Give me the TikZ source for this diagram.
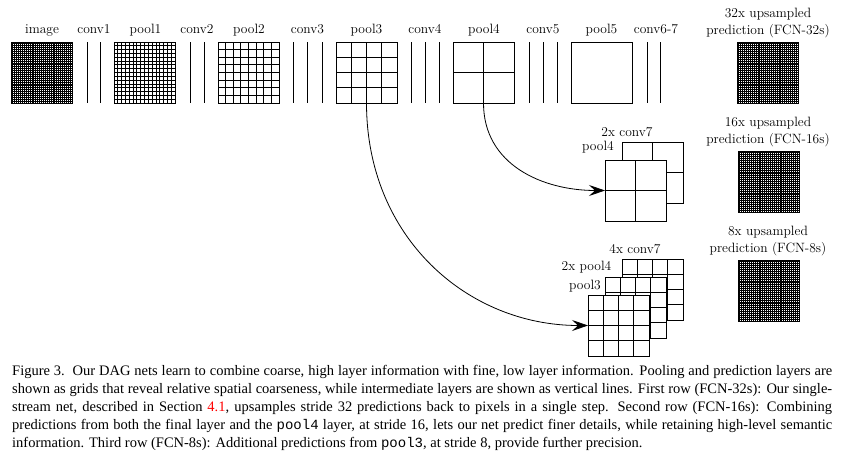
\documentclass[tikz,border=0pt]{standalone}
\usepackage{fontspec}
\newfontfamily\capfont{Liberation Serif}
\newfontfamily\capmono{Liberation Mono}
\usetikzlibrary{arrows.meta}
\newcommand\gridsq[5]{%
  \node[gridbox] (#1) at (#2,#3) {};
  \draw[#5, shift={(#1.south west)}] (0pt,0pt) grid[step=#4] (61pt,61pt);
}
\begin{document}
\begin{tikzpicture}[x=1pt,y=-1pt,
  lab/.style={font=\fontsize{13.5}{17}\selectfont, inner sep=0pt, anchor=base, align=center},
  gridbox/.style={draw=black, line width=0.8pt, fill=white, minimum size=61pt, inner sep=0pt, outer sep=0pt, anchor=north west},
  gridline/.style={line width=0.8pt},
  fineline/.style={line width=0.85pt},
  convline/.style={line width=0.8pt},
  arr/.style={line width=0.8pt, -{Stealth[length=16pt,width=11pt,inset=6pt]}},
]
\useasboundingbox (0,0) rectangle (846,458);

% ---- first row ----
\gridsq{image}{11}{42}{1.90625pt}{fineline}
\draw[convline] (87,42) -- (87,103);
\draw[convline] (100.7,42) -- (100.7,103);
\gridsq{pool1}{114}{42}{3.8125pt}{gridline}
\draw[convline] (190,42) -- (190,103);
\draw[convline] (204,42) -- (204,103);
\gridsq{pool2}{218}{42}{7.625pt}{gridline}
\draw[convline] (293,42) -- (293,103);
\draw[convline] (307.5,42) -- (307.5,103);
\draw[convline] (322,42) -- (322,103);
\gridsq{pool3}{336}{42}{15.25pt}{gridline}
\draw[convline] (411,42) -- (411,103);
\draw[convline] (425,42) -- (425,103);
\draw[convline] (439,42) -- (439,103);
\gridsq{pool4}{453}{42}{30.5pt}{gridline}
\draw[convline] (529,42) -- (529,103);
\draw[convline] (543,42) -- (543,103);
\draw[convline] (557,42) -- (557,103);
\node[gridbox] (pool5) at (571,42) {};
\draw[convline] (647,42) -- (647,103);
\draw[convline] (660,42) -- (660,103);
\gridsq{predA}{737}{42}{1.90625pt}{fineline}

\node[lab] (limage) at (42,33.5) {image};
\node[lab] (lconv1) at (94,33.5) {conv1};
\node[lab] (lpool1) at (145.5,33.5) {pool1};
\node[lab] (lconv2) at (197,33.5) {conv2};
\node[lab] (lpool2) at (249,33.5) {pool2};
\node[lab] (lconv3) at (307.5,33.5) {conv3};
\node[lab] (lpool3) at (366.5,33.5) {pool3};
\node[lab] (lconv4) at (425,33.5) {conv4};
\node[lab] (lpool4) at (484,33.5) {pool4};
\node[lab] (lconv5) at (543,33.5) {conv5};
\node[lab] (lpool5) at (601.5,33.5) {pool5};
\node[lab] (lconv67) at (656,33.5) {conv6-7};
\node[lab] (lpredA) at (768,34) {32x upsampled\\prediction (FCN-32s)};

% ---- second row ----
\gridsq{ctwo}{622}{142}{30.5pt}{gridline}
\gridsq{pfour}{605}{160}{30.5pt}{gridline}
\gridsq{predB}{738}{151}{1.90625pt}{fineline}
\node[lab] (lctwo) at (627,136) {2x conv7};
\node[lab] (lpfour) at (598,150) {pool4};
\node[lab] (lpredB) at (768,143) {16x upsampled\\prediction (FCN-16s)};

% ---- third row ----
\gridsq{cfour}{622}{259}{15.25pt}{gridline}
\gridsq{pfourb}{605}{277}{15.25pt}{gridline}
\gridsq{pthree}{588}{295}{15.25pt}{gridline}
\gridsq{predC}{738}{260}{1.90625pt}{fineline}
\node[lab] (lcfour) at (635,253) {4x conv7};
\node[lab] (lpfourb) at (586.5,270) {2x pool4};
\node[lab] (lpthree) at (585,289) {pool3};
\node[lab] (lpredC) at (768,252) {8x upsampled\\prediction (FCN-8s)};

% ---- arrows ----
\draw[arr] (pool4.south) .. controls +(0,62) and +(-62,0) .. (pfour.west);
\draw[arr] (pool3.south) .. controls +(0,135) and +(-120,0) .. (pthree.west);

% ---- caption ----
\node[anchor=north west, inner sep=0pt, text width=820pt, align=justify,
      font=\capfont\fontsize{14.5}{18}\selectfont] (caption) at (12,365)
{Figure 3.\hspace{0.15em} Our DAG nets learn to combine coarse, high layer information with fine, low layer information. Pooling and prediction layers are\linebreak
shown as grids that reveal relative spatial coarseness, while intermediate layers are shown as vertical lines. First row (FCN-32s): Our single-\linebreak
stream net, described in Section \textcolor{red}{4.1}, upsamples stride 32 predictions back to pixels in a single step. Second row (FCN-16s): Combining\linebreak
predictions from both the final layer and the {\capmono\fontsize{14}{18}\selectfont pool4} layer, at stride 16, lets our net predict finer details, while retaining high-level semantic\linebreak
information. Third row (FCN-8s): Additional predictions from {\capmono\fontsize{14}{18}\selectfont pool3}, at stride 8, provide further precision.};
\end{tikzpicture}
\end{document}
